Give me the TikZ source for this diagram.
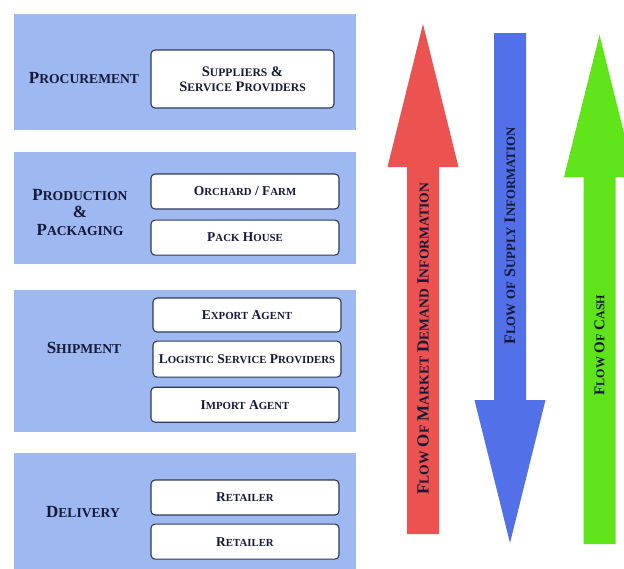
\documentclass[tikz,border=0pt]{standalone}
\usepackage{fontspec}
\setmainfont{Liberation Serif}
\usetikzlibrary{positioning}

\definecolor{panelblue}{RGB}{158,184,241}
\definecolor{ink}{RGB}{22,24,56}
\definecolor{boxline}{RGB}{48,56,88}
\definecolor{demandred}{RGB}{236,82,80}
\definecolor{supplyblue}{RGB}{82,112,232}
\definecolor{cashgreen}{RGB}{94,228,24}

% fake small caps: rest of the word in smaller capitals
\makeatletter
\newcommand\lowsc[1]{{\fontsize{\strip@pt\dimexpr0.8\dimexpr\f@size pt\relax\relax}{\f@baselineskip}\selectfont\MakeUppercase{#1}}}
\makeatother

\tikzset{
  stage/.style={fill=panelblue, minimum width=342, minimum height=#1, inner sep=0pt},
  actor/.style={draw=boxline, fill=white, line width=1.1pt, rounded corners=4pt,
    minimum width=188, minimum height=35, inner sep=1pt, align=center, text=ink,
    font=\bfseries\fontsize{13.5}{14}\selectfont},
  stagename/.style={text=ink, align=center, font=\bfseries\fontsize{17}{17.5}\selectfont},
  flowtext/.style={rotate=90, text=ink, inner sep=0pt}
}

\begin{document}
\begin{tikzpicture}[x=1pt, y=-1pt]
  \useasboundingbox[fill=white] (0,0) rectangle (624,568);
  \clip (0,0) rectangle (624,568);

  % stages
  \node[stage=116] (procure) at (185,72) {};
  \node[stage=112] (produce) at (185,208) {};
  \node[stage=142] (ship) at (185,361) {};
  \node[stage=117] (deliver) at (185,511.5) {};

  \node[stagename] (procurename) at (84,78) {P\lowsc{rocurement}};
  \node[stagename] (producename) at (80,212) {P\lowsc{roduction}\\\&\\P\lowsc{ackaging}};
  \node[stagename] (shipname) at (84,348) {S\lowsc{hipment}};
  \node[stagename] (delivername) at (83,512) {D\lowsc{elivery}};

  % actors
  \node[actor, minimum width=183, minimum height=58, font=\bfseries\fontsize{14.5}{15}\selectfont]
    (suppliers) at (242.5,79) {S\lowsc{uppliers} \&\\S\lowsc{ervice} P\lowsc{roviders}};
  \node[actor] (orchard) at (245,191.5) {O\lowsc{rchard} / F\lowsc{arm}};
  \node[actor, below=10pt of orchard] (packhouse) {P\lowsc{ack} H\lowsc{ouse}};
  \node[actor, minimum height=34] (export) at (247,315) {E\lowsc{xport} A\lowsc{gent}};
  \node[actor, minimum height=36, below=8pt of export] (logistic)
    {L\lowsc{ogistic} S\lowsc{ervice} P\lowsc{roviders}};
  \node[actor, below=9pt of logistic, xshift=-2pt] (import) {I\lowsc{mport} A\lowsc{gent}};
  \node[actor] (retailA) at (245,497.5) {R\lowsc{etailer}};
  \node[actor, below=8pt of retailA] (retailB) {R\lowsc{etailer}};

  % flows
  \foreach \cx/\yend/\ybase/\ytip/\col in {423/534/167/24/demandred,
      510/33/400/543/supplyblue, 599.5/544/177/35/cashgreen}
    \fill[\col] (\cx-16,\yend) -- (\cx-16,\ybase) -- (\cx-35.5,\ybase) -- (\cx,\ytip)
      -- (\cx+35.5,\ybase) -- (\cx+16,\ybase) -- (\cx+16,\yend) -- cycle;

  \node[flowtext, font=\bfseries\fontsize{17}{17}\selectfont] (demand) at (423,339)
    {F\lowsc{low} O\lowsc{f} M\lowsc{arket} D\lowsc{emand} I\lowsc{nformation}};
  \node[flowtext, font=\bfseries\fontsize{16}{16}\selectfont] (supply) at (510,236)
    {F\lowsc{low} \lowsc{of} S\lowsc{upply} I\lowsc{nformation}};
  \node[flowtext, font=\bfseries\fontsize{15}{15}\selectfont] (cash) at (599.5,345)
    {F\lowsc{low} O\lowsc{f} C\lowsc{ash}};
\end{tikzpicture}
\end{document}
